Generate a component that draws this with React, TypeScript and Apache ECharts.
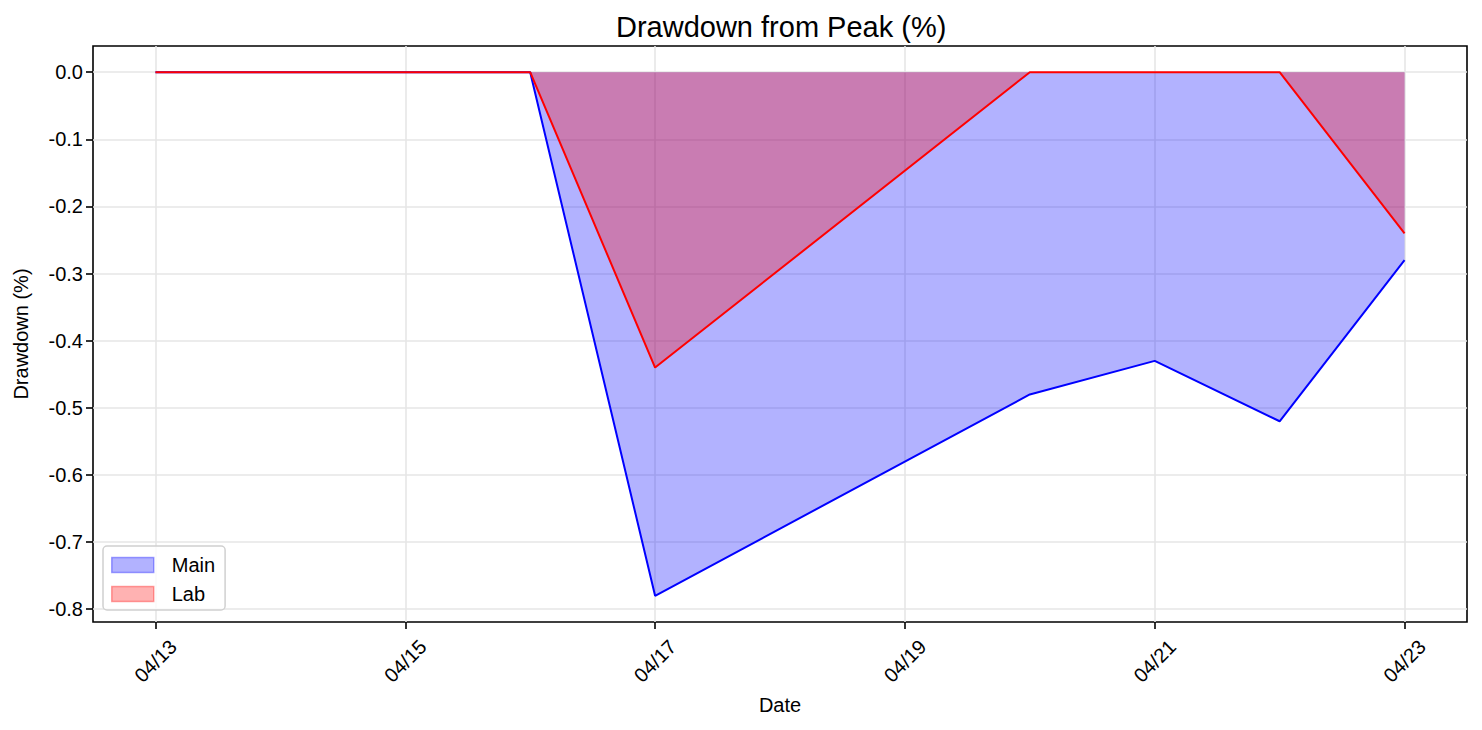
import React, { useEffect, useRef } from "react";
import * as echarts from "echarts";

const dates = ["04/13", "04/16", "04/17", "04/20", "04/21", "04/22", "04/23"];
const mainDrawdown = [0, 0, -0.78, -0.48, -0.43, -0.52, -0.28];
const labDrawdown = [0, 0, -0.44, 0, 0, 0, -0.24];
const xTickLabels = ["04/13", "04/15", "04/17", "04/19", "04/21", "04/23"];
const yTicks = [-0.8, -0.7, -0.6, -0.5, -0.4, -0.3, -0.2, -0.1, 0.0];

const dayOf = (d: string) => parseInt(d.split("/")[1], 10);
const FONT = "Liberation Sans, Arial, sans-serif";

export default function App() {
  const ref = useRef<HTMLDivElement>(null);
  useEffect(() => {
    if (!ref.current) return;
    const chart = echarts.init(ref.current, undefined, { renderer: "svg" });
    const xTicks = xTickLabels.map(dayOf);
    const mainData = dates.map((d, i) => [dayOf(d), mainDrawdown[i]]);
    const labData = dates.map((d, i) => [dayOf(d), labDrawdown[i]]);
    chart.setOption({
      animation: false,
      backgroundColor: "#fff",
      textStyle: { fontFamily: FONT, color: "#000" },
      title: {
        text: "Drawdown from Peak (%)",
        left: 611,
        top: 7,
        textStyle: { fontFamily: FONT, fontSize: 29, fontWeight: "normal", color: "#000" },
      },
      grid: {
        left: 93,
        right: 15,
        top: 46,
        bottom: 108,
        show: true,
        borderColor: "#000",
        borderWidth: 1.6,
        backgroundColor: "transparent",
      },
      legend: {
        orient: "vertical",
        left: 103,
        top: 546,
        itemWidth: 42,
        itemHeight: 15,
        itemGap: 9,
        padding: [9, 10, 6, 8],
        backgroundColor: "rgba(255,255,255,0.8)",
        borderColor: "#d0d0d0",
        borderWidth: 1.5,
        borderRadius: 4,
        textStyle: { fontFamily: FONT, fontSize: 20, color: "#000", padding: [0, 0, 0, 13] },
        data: [
          {
            name: "Main",
            icon: "rect",
            itemStyle: { color: "rgba(0,0,255,0.3)", borderColor: "rgba(0,0,255,0.35)", borderWidth: 1.5 },
          },
          {
            name: "Lab",
            icon: "rect",
            itemStyle: { color: "rgba(255,0,0,0.3)", borderColor: "rgba(255,0,0,0.35)", borderWidth: 1.5 },
          },
        ],
      },
      xAxis: {
        type: "value",
        min: 12.5,
        max: 23.5,
        name: "Date",
        nameLocation: "middle",
        nameGap: 73,
        nameTextStyle: { fontFamily: FONT, fontSize: 20, color: "#000", verticalAlign: "top" },
        axisLine: { show: false, onZero: false },
        axisTick: { show: true, length: 7, lineStyle: { color: "#000", width: 1.6 }, customValues: xTicks },
        axisLabel: {
          customValues: xTicks,
          rotate: 45,
          align: "center",
          verticalAlign: "middle",
          margin: 39,
          fontFamily: FONT,
          fontSize: 20,
          color: "#000",
          formatter: (v: number) => "04/" + String(v).padStart(2, "0"),
        },
        splitLine: { show: true, lineStyle: { color: "#e6e6e6", width: 1.6 } },
      },
      yAxis: {
        type: "value",
        min: -0.819,
        max: 0.039,
        name: "Drawdown (%)",
        nameLocation: "middle",
        nameGap: 62,
        nameTextStyle: { fontFamily: FONT, fontSize: 20, color: "#000" },
        axisLine: { show: false, onZero: false },
        axisTick: { show: true, length: 7, lineStyle: { color: "#000", width: 1.6 }, customValues: yTicks },
        axisLabel: {
          customValues: yTicks,
          margin: 10,
          fontFamily: FONT,
          fontSize: 20,
          color: "#000",
          formatter: (v: number) => (Math.abs(v) < 1e-9 ? "0.0" : v.toFixed(1)),
        },
        splitLine: { show: true, lineStyle: { color: "#e6e6e6", width: 1.6 } },
      },
      series: [
        {
          name: "Main",
          type: "line",
          data: mainData,
          symbol: "none",
          lineStyle: { color: "#0000ff", width: 2 },
          itemStyle: { color: "#0000ff" },
          areaStyle: { color: "#0000ff", opacity: 0.3, origin: 0 },
        },
        {
          name: "Lab",
          type: "line",
          data: labData,
          symbol: "none",
          lineStyle: { color: "#ff0000", width: 2 },
          itemStyle: { color: "#ff0000" },
          areaStyle: { color: "#ff0000", opacity: 0.3, origin: 0 },
        },
      ],
    });
    return () => chart.dispose();
  }, []);
  return (
    <div
      ref={ref}
      style={{ position: "fixed", left: 0, top: 0, width: 1482, height: 730 }}
    />
  );
}
